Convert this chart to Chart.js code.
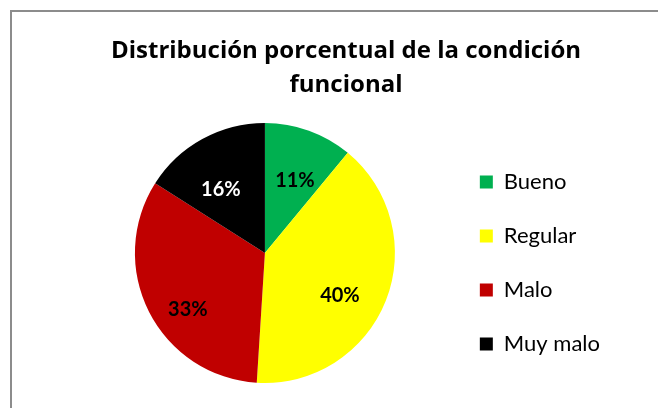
<!DOCTYPE html>
<html>
<head>
<meta charset="utf-8">
<script src="https://cdn.jsdelivr.net/npm/chart.js@4/dist/chart.umd.min.js"></script>
<style>
  html, body { margin: 0; padding: 0; background: #ffffff; width: 658px; height: 408px; overflow: hidden; }
  #frame { position: absolute; left: 10px; top: 10px; width: 700px; height: 500px; border: 2px solid #8c8c8c; background: #ffffff; }
  #c { position: absolute; left: 12px; top: 12px; }
</style>
</head>
<body>
<div id="frame"></div>
<canvas id="c" width="646" height="396"></canvas>
<script>
const titleLines = ['Distribución porcentual de la condición', 'funcional'];
const categories = ['Bueno', 'Regular', 'Malo', 'Muy malo'];
const percentValues = [11, 40, 33, 16];
const sliceColors = ['#00b050', '#ffff00', '#c00000', '#000000'];
const labelColors = ['#000000', '#000000', '#000000', '#ffffff'];

const pctLabels = {
  id: 'pctLabels',
  afterDatasetsDraw(chart, args, opts) {
    const ctx = chart.ctx;
    const meta = chart.getDatasetMeta(0);
    ctx.save();
    ctx.font = 'bold 20px Lato';
    ctx.textAlign = 'center';
    ctx.textBaseline = 'middle';
    meta.data.forEach((arc, i) => {
      const p = arc.getProps(['x', 'y', 'startAngle', 'endAngle', 'outerRadius'], true);
      const mid = (p.startAngle + p.endAngle) / 2 + opts.angleShift[i] * Math.PI / 180;
      const r = p.outerRadius * opts.radiusFactor[i];
      ctx.fillStyle = labelColors[i];
      ctx.fillText(percentValues[i] + '%', p.x + Math.cos(mid) * r, p.y + Math.sin(mid) * r);
    });
    ctx.restore();
  }
};

new Chart(document.getElementById('c'), {
  type: 'pie',
  data: {
    labels: categories,
    datasets: [{
      data: percentValues,
      backgroundColor: sliceColors,
      borderWidth: 0,
      radius: 130
    }]
  },
  options: {
    responsive: false,
    animation: false,
    layout: { padding: { left: 70, right: 48, top: 0, bottom: 21 } },
    plugins: {
      tooltip: { enabled: false },
      title: {
        display: true,
        text: titleLines,
        color: '#000000',
        font: { family: 'Open Sans', size: 24, weight: 'bold', lineHeight: 1.417 },
        padding: { top: 22, bottom: 17 }
      },
      legend: {
        position: 'right',
        align: 'end',
        fullSize: false,
        labels: {
          boxWidth: 13,
          boxHeight: 13,
          padding: 32,
          color: '#000000',
          font: { family: 'Lato', size: 22 }
        }
      },
      pctLabels: {
        radiusFactor: [0.604, 0.663, 0.735, 0.595],
        angleShift: [2.7, 7.9, -9.3, -5.9]
      }
    }
  },
  plugins: [pctLabels]
});
</script>
</body>
</html>
